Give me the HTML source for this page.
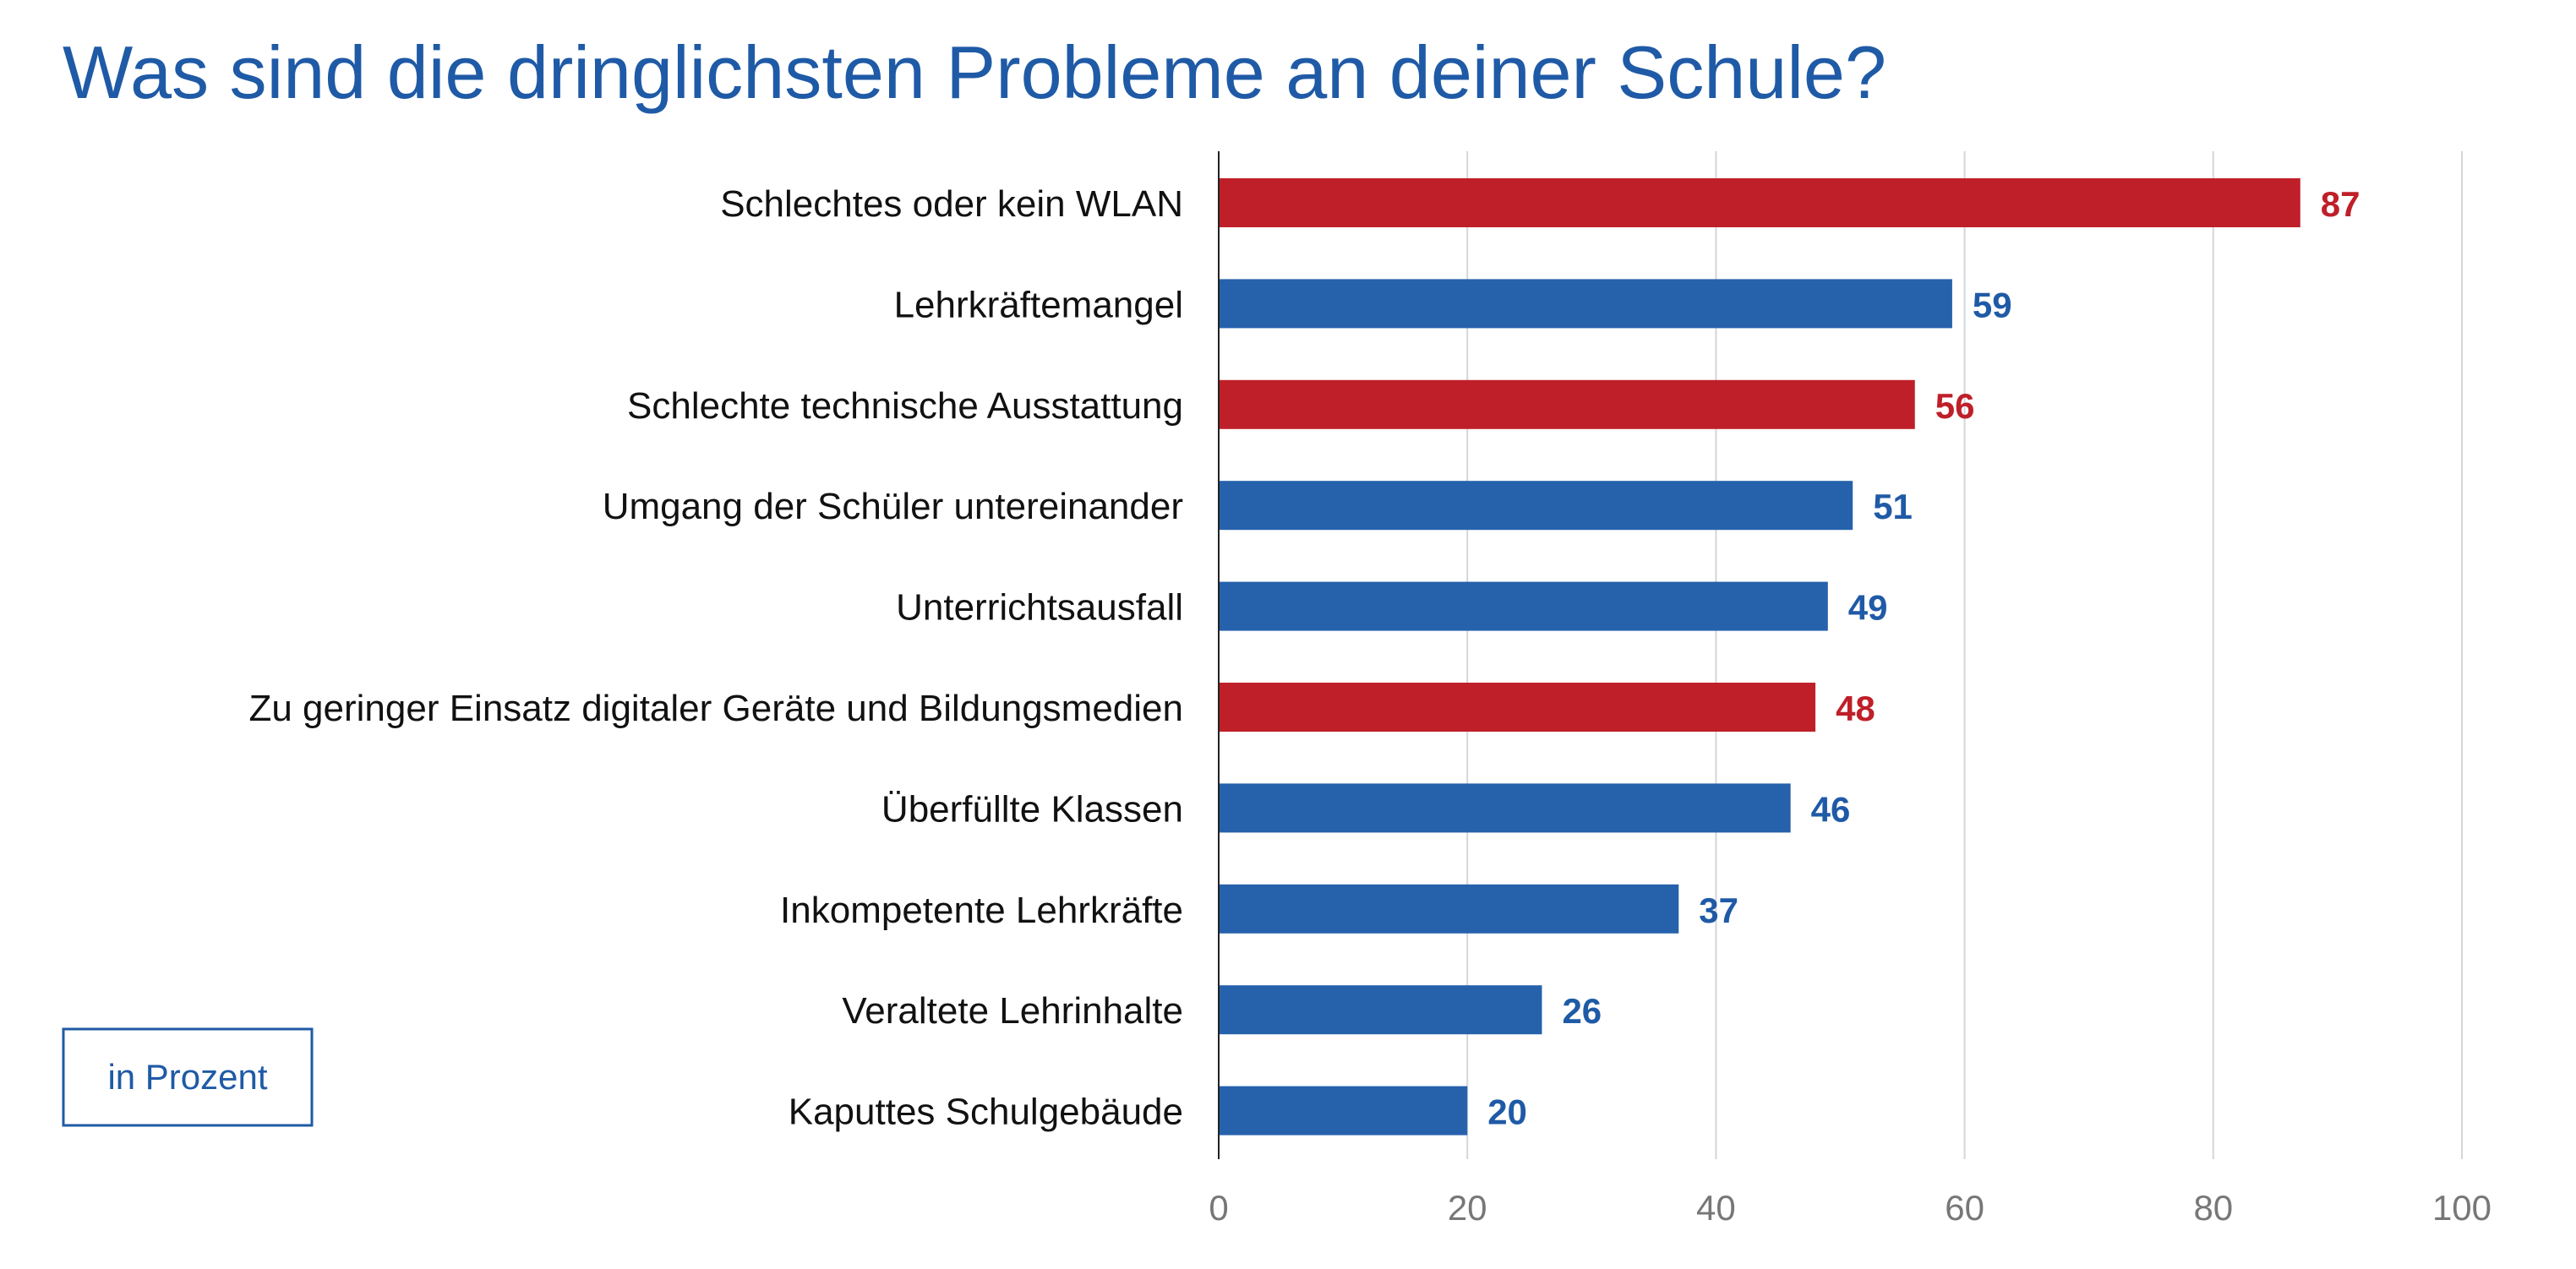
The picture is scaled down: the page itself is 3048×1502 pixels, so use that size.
<!DOCTYPE html>
<html><head><meta charset="utf-8"><style>
html,body{margin:0;padding:0;background:#fff;}
svg{display:block;font-family:"Liberation Sans",sans-serif;}
</style></head><body>
<svg id="chart" width="3048" height="1502" viewBox="0 0 3048 1502">
<text x="74" y="116" font-size="88" fill="#1f5aa6" textLength="2158" lengthAdjust="spacingAndGlyphs">Was sind die dringlichsten Probleme an deiner Schule?</text>
<g id="grid"></g>
<g id="bars"></g>
<g id="ticks"></g>
<rect x="75" y="1218" width="294" height="114" fill="none" stroke="#1f5aa6" stroke-width="3"/>
<text x="222" y="1289" font-size="42" fill="#1f5aa6" text-anchor="middle">in Prozent</text>
</svg>
<script>
const categories = ["Schlechtes oder kein WLAN","Lehrkräftemangel","Schlechte technische Ausstattung","Umgang der Schüler untereinander","Unterrichtsausfall","Zu geringer Einsatz digitaler Geräte und Bildungsmedien","Überfüllte Klassen","Inkompetente Lehrkräfte","Veraltete Lehrinhalte","Kaputtes Schulgebäude"];
const values = [87,59,56,51,49,48,46,37,26,20];
const highlighted = [true,false,true,false,false,true,false,false,false,false];
const tickValues = [0,20,40,60,80,100];

const NS = "http://www.w3.org/2000/svg";
const x0 = 1442, x1 = 2913, top0 = 179, bottom0 = 1372;
const xScale = v => x0 + (v - 0) / (100 - 0) * (x1 - x0);
const rowPitch = 119.4, firstCenter = 240, barH = 58;
const yScale = i => firstCenter + i * rowPitch;
function mk(tag, attrs, parent){const e=document.createElementNS(NS,tag);for(const k in attrs)e.setAttribute(k,attrs[k]);parent.appendChild(e);return e;}
const grid=document.getElementById('grid'), bars=document.getElementById('bars'), ticks=document.getElementById('ticks');
tickValues.forEach(t=>{
  if(t!==0){
    const l=mk('line',{x1:xScale(t),x2:xScale(t),y1:top0,y2:bottom0,stroke:'#d3d6da','stroke-width':2},grid);
    
    
  }
  const tx=mk('text',{x:xScale(t),y:1444,'font-size':42,fill:'#777','text-anchor':'middle'},ticks);
  tx.textContent=t;
  
  
});
const ax=mk('line',{x1:x0,x2:x0,y1:top0,y2:bottom0,stroke:'#222','stroke-width':2},grid);


categories.forEach((c,i)=>{
  const cy=yScale(i), col=highlighted[i]?'#bf1f29':'#2661ac';
  const r=mk('rect',{x:x0+1,y:cy-barH/2,width:xScale(values[i])-x0-1,height:barH,fill:col},bars);
  
  
  const lb=mk('text',{x:1400,y:cy+16,'font-size':44,fill:'#111','text-anchor':'end'},bars);
  lb.textContent=c;
  
  
  const vl=mk('text',{x:xScale(values[i])+24,y:cy+16,'font-size':42,'font-weight':'bold',fill:highlighted[i]?'#bf1f29':'#1f5aa6'},bars);
  vl.textContent=values[i];
  
  
});
</script>
</body></html>
